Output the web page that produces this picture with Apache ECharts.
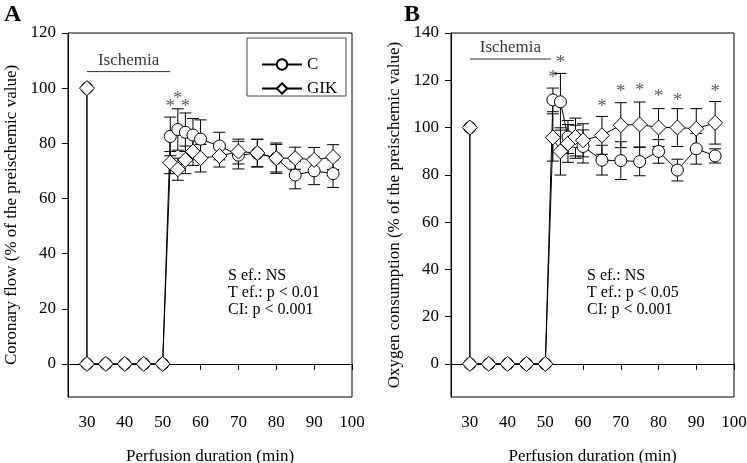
<!DOCTYPE html>
<html>
<head>
<meta charset="utf-8">
<script src="https://cdn.jsdelivr.net/npm/echarts@6/dist/echarts.min.js"></script>
<style>
html, body { margin: 0; padding: 0; background: #fff; }
#container { width: 747px; height: 463px; }
</style>
</head>
<body>
<div id="container"></div>
<script>
var FONT = 'Liberation Serif';

// ---- panel A: coronary flow ----
var timeA      = [30, 30, 35, 40, 45, 50, 52, 54, 56, 58, 60, 65, 70, 75, 80, 85, 90, 95];
var flowC      = [100, 0, 0, 0, 0, 0, 82.5, 85, 84, 83, 81.5, 79, 75.7, 76.4, 74.6, 68.5, 70, 69];
var flowCErr   = [0, 0, 0, 0, 0, 0, 7, 7.5, 7, 6, 7, 5, 5, 5, 5.5, 5, 5, 5];
var flowGIK    = [100, 0, 0, 0, 0, 0, 73, 70.6, 74, 77, 74.6, 75.4, 77, 76.5, 74.6, 74.6, 74, 75];
var flowGIKErr = [0, 0, 0, 0, 0, 0, 4, 4, 5, 5, 5, 4, 4.5, 5, 5, 4, 4.5, 4.5];
var starA_x = [52, 54, 56];
var starA_y = [95, 98, 95];

// ---- panel B: oxygen consumption ----
var timeB     = [30, 30, 35, 40, 45, 50, 52, 54, 56, 58, 60, 65, 70, 75, 80, 85, 90, 95];
var oxyC      = [100, 0, 0, 0, 0, 0, 111.7, 110.9, 96, 94, 92, 86.2, 86, 85.6, 89.9, 82, 91, 88];
var oxyCErr   = [0, 0, 0, 0, 0, 0, 5, 12, 7, 7, 7, 6.3, 8, 6, 5, 4.6, 6.5, 3];
var oxyGIK    = [100, 0, 0, 0, 0, 0, 95.8, 89.9, 93.3, 96, 94.6, 96.7, 101, 101.3, 100, 100, 99.5, 102];
var oxyGIKErr = [0, 0, 0, 0, 0, 0, 10, 10, 8, 8, 7, 8, 9.5, 9.5, 8, 8, 8.5, 9];
var starB_x = [52, 54, 65, 70, 75, 80, 85, 95];
var starB_y = [123, 129.5, 111, 117, 117.5, 115, 113.5, 117];

var xTicks  = [30, 40, 50, 60, 70, 80, 90, 100];
var yTicksA = [0, 20, 40, 60, 80, 100, 120];
var yTicksB = [0, 20, 40, 60, 80, 100, 120, 140];

var ischemiaA = [[30, 106], [52, 106]];
var ischemiaB = [[30, 129], [51.5, 129]];

function pairs(xs, ys) {
    return xs.map(function (x, i) { return [x, ys[i]]; });
}

function errBars(gi, xs, ys, es) {
    var d = [];
    xs.forEach(function (x, i) {
        if (es[i] > 0) d.push([x, ys[i] - es[i], ys[i] + es[i]]);
    });
    return {
        type: 'custom', xAxisIndex: gi, yAxisIndex: gi, z: 2, silent: true,
        data: d,
        encode: { x: 0, y: [1, 2] },
        renderItem: function (params, api) {
            var lo = api.coord([api.value(0), api.value(1)]);
            var hi = api.coord([api.value(0), api.value(2)]);
            var w = 6;
            var st = { stroke: '#000', lineWidth: 1 };
            return {
                type: 'group',
                children: [
                    { type: 'line', shape: { x1: lo[0], y1: lo[1], x2: hi[0], y2: hi[1] }, style: st },
                    { type: 'line', shape: { x1: lo[0] - w, y1: lo[1], x2: lo[0] + w, y2: lo[1] }, style: st },
                    { type: 'line', shape: { x1: hi[0] - w, y1: hi[1], x2: hi[0] + w, y2: hi[1] }, style: st }
                ]
            };
        }
    };
}

function lineSeries(gi, name, xs, ys, symbol, size) {
    return {
        name: name, type: 'line', xAxisIndex: gi, yAxisIndex: gi, z: 5,
        data: pairs(xs, ys),
        symbol: symbol, symbolSize: size, showSymbol: true, showAllSymbol: true,
        itemStyle: { color: '#fff', borderColor: '#000', borderWidth: 1 },
        lineStyle: { color: '#000', width: 1 },
        emphasis: { disabled: true }
    };
}

function stars(gi, xs, ys) {
    return {
        type: 'scatter', xAxisIndex: gi, yAxisIndex: gi, z: 6, silent: true,
        data: pairs(xs, ys),
        symbolSize: 1, itemStyle: { color: 'rgba(0,0,0,0)' },
        label: { show: true, position: 'inside', formatter: '*', offset: [0, 5],
                 color: '#333', fontSize: 19, fontFamily: FONT }
    };
}

function ischemia(gi, pts) {
    return [{
        type: 'line', xAxisIndex: gi, yAxisIndex: gi, z: 3, silent: true,
        data: pts, symbol: 'none',
        lineStyle: { color: '#333', width: 1 }
    }, {
        type: 'scatter', xAxisIndex: gi, yAxisIndex: gi, silent: true,
        data: [[(pts[0][0] + pts[1][0]) / 2, pts[0][1]]],
        symbolSize: 1, itemStyle: { color: 'rgba(0,0,0,0)' },
        label: { show: true, position: 'top', distance: 2, formatter: 'Ischemia',
                 color: '#000', fontSize: 17, fontFamily: FONT }
    }];
}

function xAxis(gi) {
    return {
        type: 'value', gridIndex: gi, min: 25, max: 100,
        name: 'Perfusion duration (min)', nameLocation: 'middle', nameGap: 51,
        nameTextStyle: { color: '#000', fontSize: 17, fontFamily: FONT },
        axisLine: { show: true, lineStyle: { color: '#000', width: 1 } },
        axisTick: { show: true, inside: false, length: 6, customValues: xTicks,
                    lineStyle: { color: '#000' } },
        axisLabel: { customValues: xTicks, margin: 17, color: '#000', fontSize: 17, fontFamily: FONT },
        splitLine: { show: false }
    };
}

function yAxis(gi, min, max, ticks, name) {
    return {
        type: 'value', gridIndex: gi, min: min, max: max,
        name: name, nameLocation: 'middle', nameGap: 48,
        nameTextStyle: { color: '#000', fontSize: 17, fontFamily: FONT },
        axisLine: { show: true, lineStyle: { color: '#000', width: 1 } },
        axisTick: { show: true, inside: false, length: 6, customValues: ticks,
                    lineStyle: { color: '#000' } },
        axisLabel: { customValues: ticks, margin: 12, color: '#000', fontSize: 17, fontFamily: FONT },
        splitLine: { show: false }
    };
}

function statText(x, lines) {
    return {
        type: 'text', left: x, top: 267,
        style: { text: lines.join('\n'), fill: '#000', font: '16px "Liberation Serif"', lineHeight: 17 }
    };
}

var myChart = echarts.init(document.getElementById('container'));
myChart.setOption({
    animation: false,
    backgroundColor: '#fff',
    grid: [
        { left: 68, top: 33, width: 284, height: 364, show: true, borderColor: '#000', borderWidth: 1,
          outerBoundsMode: 'none' },
        { left: 451, top: 33, width: 283, height: 364, show: true, borderColor: '#000', borderWidth: 1,
          outerBoundsMode: 'none' }
    ],
    xAxis: [xAxis(0), xAxis(1)],
    yAxis: [
        yAxis(0, -12, 120, yTicksA, 'Coronary flow (% of the preischemic value)'),
        yAxis(1, -14, 140, yTicksB, 'Oxygen consumption (% of the preischemic value)')
    ],
    legend: {
        data: ['C', 'GIK'], orient: 'vertical', left: 256, top: 51,
        itemWidth: 40, itemHeight: 13, itemGap: 7,
        textStyle: { color: '#000', fontSize: 17, fontFamily: FONT },
        selectedMode: false
    },
    graphic: [
        { type: 'rect', shape: { x: 247, y: 38, width: 99, height: 58 },
          style: { fill: 'none', stroke: '#444', lineWidth: 1 } },
        { type: 'text', left: 4, top: 3, style: { text: 'A', fill: '#000', font: 'bold 24px "Liberation Serif"' } },
        { type: 'text', left: 404, top: 3, style: { text: 'B', fill: '#000', font: 'bold 24px "Liberation Serif"' } },
        statText(228, ['S ef.: NS', 'T ef.: p < 0.01', 'CI: p < 0.001']),
        statText(587, ['S ef.: NS', 'T ef.: p < 0.05', 'CI: p < 0.001'])
    ],
    series: [
        errBars(0, timeA, flowC, flowCErr),
        errBars(0, timeA, flowGIK, flowGIKErr),
        lineSeries(0, 'C', timeA, flowC, 'circle', 12),
        lineSeries(0, 'GIK', timeA, flowGIK, 'diamond', 15),
        stars(0, starA_x, starA_y),
        errBars(1, timeB, oxyC, oxyCErr),
        errBars(1, timeB, oxyGIK, oxyGIKErr),
        lineSeries(1, 'C', timeB, oxyC, 'circle', 12),
        lineSeries(1, 'GIK', timeB, oxyGIK, 'diamond', 15),
        stars(1, starB_x, starB_y)
    ].concat(ischemia(0, ischemiaA), ischemia(1, ischemiaB))
});
</script>
</body>
</html>
